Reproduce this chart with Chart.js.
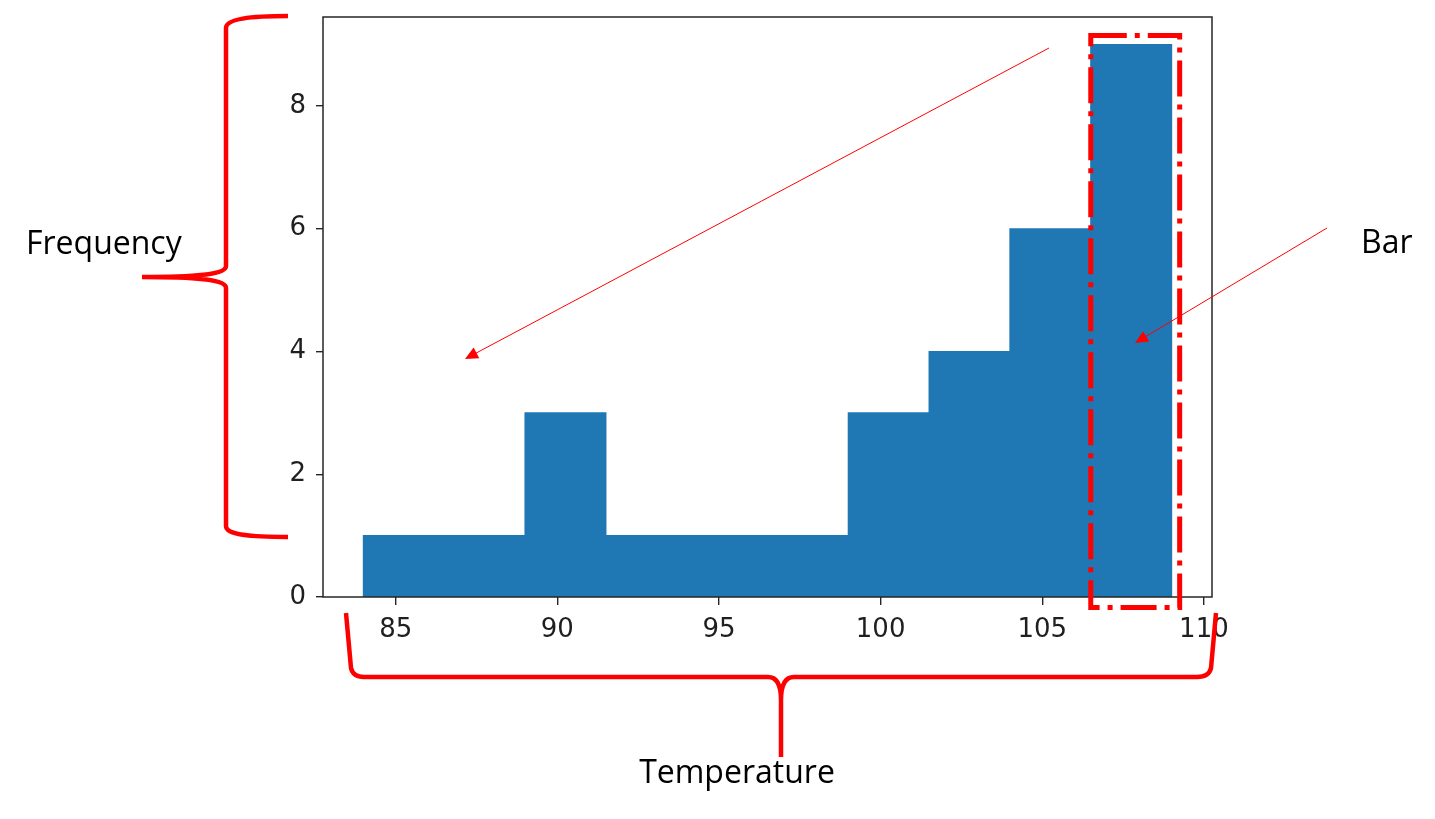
<!DOCTYPE html>
<html>
<head>
<meta charset="utf-8">
<title>Temperature histogram</title>
<script src="https://cdn.jsdelivr.net/npm/chart.js@4.4.1/dist/chart.umd.min.js"></script>
<style>
  html, body { margin: 0; padding: 0; background: #fff; }
  #wrap { position: relative; width: 1435px; height: 819px; }
</style>
</head>
<body>
<div id="wrap"><canvas id="chart"></canvas></div>
<script>
// histogram data
const binEdges = [84, 86.5, 89, 91.5, 94, 96.5, 99, 101.5, 104, 106.5, 109];
const counts = [1, 1, 3, 1, 1, 1, 3, 4, 6, 9];
const xTicks = [85, 90, 95, 100, 105, 110];
const yTicks = [0, 2, 4, 6, 8];
const xLabel = "Temperature";
const yLabel = "Frequency";
const barLabel = "Bar";

const RED = "#ff0000";
const BLUE = "#1f77b4";

// matplotlib style 5% margins
const span = binEdges[binEdges.length - 1] - binEdges[0];
const xMin = binEdges[0] - span * 0.05;
const xMax = binEdges[binEdges.length - 1] + span * 0.05;
const yMax = Math.max(...counts) * 1.05;

const points = counts.map((c, i) => ({ x: (binEdges[i] + binEdges[i + 1]) / 2, y: c }));

function arrow(ctx, x1, y1, x2, y2) {
  const a = Math.atan2(y2 - y1, x2 - x1);
  ctx.beginPath();
  ctx.moveTo(x1, y1);
  ctx.lineTo(x2 - 10 * Math.cos(a), y2 - 10 * Math.sin(a));
  ctx.stroke();
  ctx.beginPath();
  ctx.moveTo(x2, y2);
  ctx.lineTo(x2 - 13 * Math.cos(a) + 6 * Math.sin(a), y2 - 13 * Math.sin(a) - 6 * Math.cos(a));
  ctx.lineTo(x2 - 13 * Math.cos(a) - 6 * Math.sin(a), y2 - 13 * Math.sin(a) + 6 * Math.cos(a));
  ctx.closePath();
  ctx.fill();
}

const annotations = {
  id: "annotations",
  afterDraw(chart) {
    const { ctx, chartArea, scales } = chart;
    ctx.save();

    // frame (all four spines)
    ctx.strokeStyle = "#262626";
    ctx.lineWidth = 1.5;
    ctx.strokeRect(chartArea.left, chartArea.top, chartArea.right - chartArea.left, chartArea.bottom - chartArea.top);

    // dash-dot box round the last bar
    const last = binEdges.length - 2;
    const bx1 = scales.x.getPixelForValue(binEdges[last]);
    const bx2 = scales.x.getPixelForValue(binEdges[last + 1] + 0.25);
    const by1 = scales.y.getPixelForValue(counts[last] + 0.15);
    const by2 = scales.y.getPixelForValue(-0.17);
    ctx.strokeStyle = RED;
    ctx.lineWidth = 5;
    ctx.setLineDash([36, 8, 5, 8]);
    ctx.strokeRect(bx1, by1, bx2 - bx1, by2 - by1);
    ctx.setLineDash([]);

    // arrows
    ctx.fillStyle = RED;
    ctx.lineWidth = 1;
    arrow(ctx, 1049, 48, 465, 359);
    arrow(ctx, 1327, 228, 1135, 343);

    // left brace
    ctx.lineWidth = 4.5;
    ctx.lineJoin = "round";
    ctx.beginPath();
    ctx.moveTo(288, 16);
    ctx.bezierCurveTo(250, 16, 226, 19, 226, 28);
    ctx.lineTo(226, 266);
    ctx.bezierCurveTo(226, 274, 200, 277, 142, 277);
    ctx.moveTo(142, 277);
    ctx.bezierCurveTo(200, 277, 226, 280, 226, 288);
    ctx.lineTo(226, 526);
    ctx.bezierCurveTo(226, 535, 250, 537, 288, 537);
    ctx.stroke();

    // bottom brace
    ctx.beginPath();
    ctx.moveTo(346, 613);
    ctx.lineTo(351, 668);
    ctx.quadraticCurveTo(353, 677, 364, 677);
    ctx.lineTo(768, 677);
    ctx.quadraticCurveTo(781, 677, 781, 700);
    ctx.lineTo(781, 757);
    ctx.moveTo(1216, 613);
    ctx.lineTo(1211, 668);
    ctx.quadraticCurveTo(1209, 677, 1197, 677);
    ctx.lineTo(794, 677);
    ctx.quadraticCurveTo(781, 677, 781, 700);
    ctx.stroke();

    // labels
    ctx.fillStyle = "#000";
    ctx.font = "32px 'Open Sans'";
    ctx.textBaseline = "alphabetic";
    ctx.textAlign = "left";
    ctx.fillText(yLabel, 26, 254);
    ctx.fillText(barLabel, 1361, 253);
    ctx.textAlign = "center";
    ctx.fillText(xLabel, 737, 783);

    ctx.restore();
  },
};

const tickFont = { family: "'DejaVu Sans'", size: 26 };
const noPad = (s) => { s.paddingTop = 0; s.paddingBottom = 0; s.paddingLeft = 0; s.paddingRight = 0; };

new Chart(document.getElementById("chart"), {
  type: "bar",
  data: {
    datasets: [{
      data: points,
      backgroundColor: BLUE,
      borderWidth: 0,
      inflateAmount: 0.6,
      barPercentage: 1,
      categoryPercentage: 1,
    }],
  },
  options: {
    responsive: true,
    maintainAspectRatio: false,
    animation: false,
    layout: { padding: { left: 0, top: 17, right: 223, bottom: 172 } },
    plugins: { legend: { display: false }, tooltip: { enabled: false } },
    scales: {
      x: {
        type: "linear",
        offset: false,
        min: xMin,
        max: xMax,
        afterBuildTicks: (s) => { s.ticks = xTicks.map((v) => ({ value: v })); },
        afterFit: (s) => { s.height = 50; noPad(s); },
        grid: { offset: false, drawOnChartArea: false, drawTicks: true, tickLength: 8, color: "#262626", lineWidth: 1.4 },
        border: { display: false },
        ticks: { color: "#1f1f1f", font: tickFont, padding: 10, maxRotation: 0, autoSkip: false },
      },
      y: {
        min: 0,
        max: yMax,
        afterBuildTicks: (s) => { s.ticks = yTicks.map((v) => ({ value: v })); },
        afterFit: (s) => { s.width = 323; noPad(s); },
        grid: { drawOnChartArea: false, drawTicks: true, tickLength: 7, color: "#262626", lineWidth: 1.4 },
        border: { display: false },
        ticks: { color: "#1f1f1f", font: tickFont, padding: 10 },
      },
    },
  },
  plugins: [annotations],
});
</script>
</body>
</html>
